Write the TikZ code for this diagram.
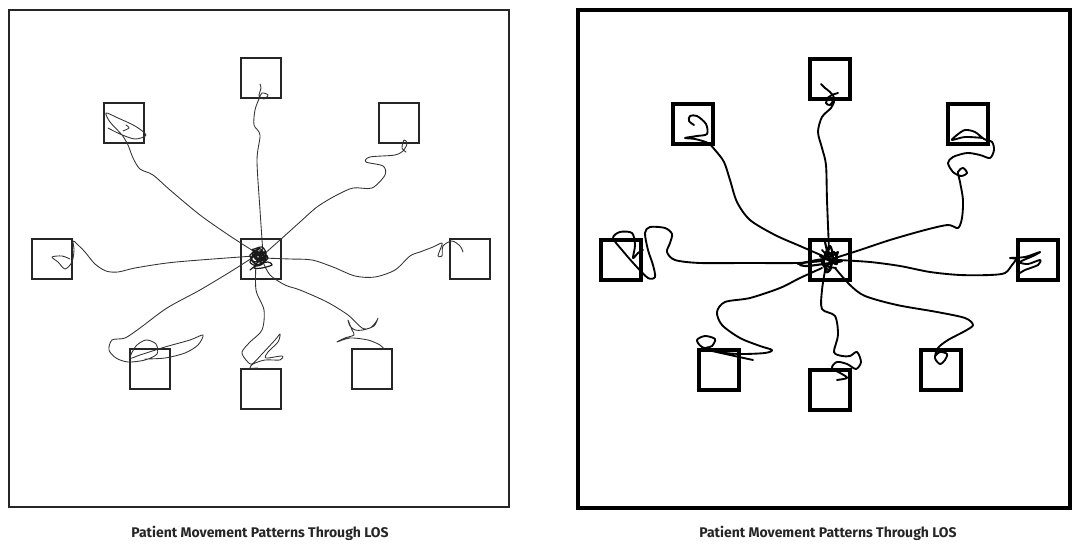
\documentclass[tikz,border=0pt]{standalone}
\usepackage{fontspec}
\newfontfamily\capfont{Fira Sans}
\begin{document}
\begin{tikzpicture}[x=0.75pt,y=-0.75pt,
  roomL/.style={draw=black!85,line width=1.5pt,minimum size=30pt,inner sep=0pt},
  roomR/.style={draw=black,line width=3pt,minimum size=30pt,inner sep=0pt},
  trackL/.style={draw=black!80,line width=0.65pt,line join=round,line cap=round},
  trackR/.style={draw=black,line width=1.4pt,line join=round,line cap=round},
  caption/.style={font=\capfont\bfseries\fontsize{10.5}{12}\selectfont,text=black!85,inner sep=0pt}]
\useasboundingbox (0,0) rectangle (1072,545);
% ---------------- left panel ----------------
\draw[black!85,line width=1.5pt] (8.5,10) rectangle (509,507);
\node[roomL] (LC) at (261,259) {};
\node[roomL] (LT) at (261,78) {};
\node[roomL] (LUL) at (123.5,123) {};
\node[roomL] (LUR) at (398.5,123) {};
\node[roomL] (LL) at (52,259) {};
\node[roomL] (LR) at (470,259) {};
\node[roomL] (LBL) at (150,369.5) {};
\node[roomL] (LB) at (261,389) {};
\node[roomL] (LBR) at (371.5,369.5) {};
% tracks
\draw[trackL] plot[smooth] coordinates {(258,254) (230,236) (200,215) (170,190) (153,175) (140,169) (133,158) (128,145) (122,135) (110,122) (106,113) (118,118) (135,126) (146,135) (135,139) (120,134) (108,128)};
\draw[trackL] plot[smooth] coordinates {(123,131) (129,128) (126,125)};
\draw[trackL] plot[smooth] coordinates {(263,254) (260,210) (257,160) (260,135) (254,125) (255,110) (259,99) (262,93) (268,95) (264,99) (259,96) (261,88) (260,84)};
\draw[trackL] plot[smooth] coordinates {(262,256) (280,240) (300,222) (317,207) (335,196) (353,188) (372,188) (385,175) (383,166) (366,162) (370,157) (395,155) (404,150) (407,143) (404,140) (402,148) (406,152)};
\draw[trackL] plot[smooth] coordinates {(254,256) (200,260) (167,263) (135,268) (118,272) (106,271) (95,264) (85,252) (77,244) (73,241) (74,250) (72,262) (65,269) (58,262) (52,257) (62,256) (70,259)};
\draw[trackL] plot[smooth] coordinates {(262,258) (290,259) (312,260) (333,267) (355,276) (375,277) (395,270) (410,256) (420,252) (433,247) (442,243) (440,250) (438,256) (442,256) (443,246) (452,241) (460,246) (463,252)};
\draw[trackL] plot[smooth] coordinates {(252,258) (230,272) (200,290) (167,308) (140,328) (125,338) (112,340) (109,350) (116,358) (128,362) (145,360) (157,354) (156,344) (146,340) (136,346) (130,358) (140,355) (165,347) (190,340) (203,335) (198,345) (185,353) (165,358) (145,359)};
\draw[trackL] plot[smooth] coordinates {(256,262) (256,290) (264,310) (262,330) (250,342) (242,352) (246,360) (252,364) (262,354) (275,340) (280,334) (278,342) (268,352) (266,358) (282,356) (280,360) (265,360) (253,364) (250,368) (258,368)};
\draw[trackL] plot[smooth] coordinates {(263,262) (270,275) (285,285) (300,290) (327,302) (348,315) (362,328) (370,328) (376,322) (378,318) (374,326) (363,330) (355,330) (350,326) (348,320) (352,330) (354,335) (345,338) (337,342) (350,338) (368,340) (380,345) (384,349)};
% center scribble
\draw[trackL,line width=0.9pt,black!90] plot[smooth] coordinates {(252,250) (262,247) (266,255) (255,262) (250,255) (260,251) (268,258) (258,265) (251,259) (257,252) (263,260) (256,257) (254,252) (261,249) (264,262) (257,266) (250,262) (256,254) (265,252) (259,258)};
\draw[trackL,line width=0.9pt,black!90] plot[smooth] coordinates {(250,270) (257,265) (268,262) (272,265) (262,268) (254,268) (258,262) (266,259)};
\draw[trackL,line width=0.9pt,black!90] plot[smooth] coordinates {(253,249) (258,256) (262,250) (255,259) (267,256) (259,262) (254,255) (260,253) (264,257) (257,260) (252,253) (259,249)};
\draw[trackL,line width=0.9pt,black!90] plot[smooth] coordinates {(256,251) (261,255) (255,256) (258,260) (262,253) (266,260) (260,263)};
\node[caption] (capL) at (260,533) {Patient Movement Patterns Through LOS};
% ---------------- right panel ----------------
\draw[black,line width=3pt] (578,10) rectangle (1070,508);
\node[roomR] (RC) at (829.5,260.5) {};
\node[roomR] (RT) at (829.5,79) {};
\node[roomR] (RUL) at (692.5,124.5) {};
\node[roomR] (RUR) at (967.5,124.5) {};
\node[roomR] (RL) at (621,260.5) {};
\node[roomR] (RR) at (1038,260.5) {};
\node[roomR] (RBL) at (719,370.5) {};
\node[roomR] (RB) at (829.5,390.5) {};
\node[roomR] (RBR) at (940.5,370.5) {};
% tracks
\draw[trackR] plot[smooth] coordinates {(823,256) (800,246) (775,235) (750,220) (737,202) (730,180) (724,162) (715,150) (708,143) (695,139) (685,138) (697,136) (707,134) (706,124) (697,116) (690,116) (689,121) (694,125)};
\draw[trackR] plot[smooth] coordinates {(829,250) (827,200) (826,165) (822,148) (818,132) (822,117) (831,108) (834,101) (829,98) (826,103) (830,105) (834,98) (830,92) (825,88) (821,84)};
\draw[trackR] plot[smooth] coordinates {(826,99) (832,95) (838,93)};
\draw[trackR] plot[smooth] coordinates {(832,259) (860,250) (890,240) (925,230) (948,225) (958,228) (962,218) (963,200) (960,182) (958,172) (963,168) (967,173) (961,176) (953,172) (948,163) (953,157) (967,153) (980,155) (990,158) (994,150) (992,142) (984,139) (975,132) (965,130) (957,135) (952,140) (965,137) (983,138)};
\draw[trackR] plot[smooth] coordinates {(822,261) (797,263) (747,263) (700,263) (675,260) (667,252) (670,243) (672,234) (665,228) (650,227) (645,233) (648,250) (653,265) (655,277) (648,278) (635,265) (622,250) (613,238) (620,232) (632,233) (635,245) (633,258) (638,253) (643,250)};
\draw[trackR] plot[smooth] coordinates {(838,260) (870,262) (900,266) (930,272) (960,275) (990,275) (1005,273) (1012,265) (1016,259) (1010,258) (1025,257) (1040,252) (1033,256) (1020,262) (1028,264) (1040,260) (1038,265) (1025,270) (1020,273)};
\draw[trackR] plot[smooth] coordinates {(822,268) (800,278) (780,288) (750,298) (725,302) (717,312) (722,325) (740,338) (760,346) (772,350) (765,353) (740,354) (718,352) (702,347) (697,340) (705,336) (715,339) (712,346) (705,349) (730,355) (753,360)};
\draw[trackR] plot[smooth] coordinates {(826,265) (822,290) (822,309) (835,316) (838,335) (834,352) (842,356) (850,356) (857,352) (861,362) (856,369) (847,364) (837,362) (832,368) (842,374) (847,378) (837,380)};
\draw[trackR] plot[smooth] coordinates {(835,268) (850,285) (865,296) (897,305) (937,312) (965,318) (973,325) (965,331) (948,340) (938,348) (935,358) (940,364) (945,360) (947,354) (940,352) (935,356)};
% center scribble
\draw[trackR,line width=1.6pt] plot[smooth] coordinates {(825,242) (828,255) (831,268) (826,272) (824,258) (830,246) (833,258) (829,270) (822,262) (834,252) (837,264) (828,260) (820,256) (835,262) (827,250)};
\draw[trackR,line width=1.6pt] plot[smooth] coordinates {(798,264) (812,261) (826,259) (842,261) (830,263) (808,266) (800,265)};
\draw[trackR,line width=1.4pt] plot[smooth] coordinates {(822,250) (830,257) (838,252) (833,262) (826,266) (836,268)};
\node[caption] (capR) at (828,533) {Patient Movement Patterns Through LOS};
\end{tikzpicture}
\end{document}
